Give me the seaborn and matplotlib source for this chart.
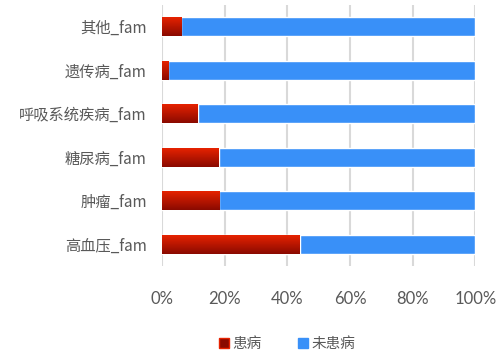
import numpy as np
import pandas as pd
import matplotlib
matplotlib.use("Agg")
import matplotlib.pyplot as plt
from matplotlib.colors import LinearSegmentedColormap
from matplotlib.lines import Line2D
import seaborn as sns

# Family history categories and share (%) of respondents with / without the disease
categories = ["其他_fam", "遗传病_fam", "呼吸系统疾病_fam", "糖尿病_fam", "肿瘤_fam", "高血压_fam"]
affected = [6.1, 2.0, 11.4, 18.1, 18.3, 43.9]
unaffected = [93.9, 98.0, 88.6, 81.9, 81.7, 56.1]
xticks = [0, 20, 40, 60, 80, 100]
xtick_labels = ["0%", "20%", "40%", "60%", "80%", "100%"]
legend_labels = ["患病", "未患病"]

sns.set_theme(style="white")
plt.rcParams["font.family"] = ["Noto Sans CJK SC", "DejaVu Sans"]

df = pd.DataFrame({"cat": categories, "affected": affected, "unaffected": unaffected})
df["total"] = df["affected"] + df["unaffected"]

text_color = "#595959"
blue = "#3990F8"
red_top, red_bot = "#E62200", "#8A0A00"

fig = plt.figure(figsize=(5.01, 3.54), dpi=100)
ax = fig.add_axes([162 / 501, 1 - 266 / 354, (475.3 - 162) / 501, (266 - 5) / 354])

# stacked bars: full-length "not affected" bar with the "affected" bar laid over its start
sns.barplot(data=df, y="cat", x="total", color=blue, saturation=1, width=0.43,
            orient="h", ax=ax, zorder=2)
sns.barplot(data=df, y="cat", x="affected", color=red_bot, saturation=1, width=0.43,
            orient="h", ax=ax, zorder=3)

# vertical red gradient inside each "affected" bar
red_cmap = LinearSegmentedColormap.from_list("redgrad", [red_top, red_bot])
grad = np.linspace(0, 1, 64).reshape(-1, 1)
n = len(categories)
for patch in ax.patches[n:]:
    x0, y0 = patch.get_x(), patch.get_y()
    w, h = patch.get_width(), patch.get_height()
    im = ax.imshow(grad, cmap=red_cmap, aspect="auto", origin="upper",
                   extent=(x0, x0 + w, y0 + h, y0), zorder=4, interpolation="bilinear")
    im.set_clip_path(patch)

ax.set_xlim(0, 100)
ax.set_ylim(n - 0.5, -0.5)
ax.set_xticks(xticks)
ax.set_xticklabels(xtick_labels)
ax.set_xlabel("")
ax.set_ylabel("")
ax.grid(axis="x", color="#D9D9D9", linewidth=1.5, zorder=0)
ax.set_axisbelow(True)
for s in ax.spines.values():
    s.set_visible(False)
ax.tick_params(axis="y", length=0, pad=11, labelsize=11, labelcolor=text_color)
ax.tick_params(axis="x", length=0, pad=18, labelsize=12, labelcolor=text_color)
for lbl in ax.get_xticklabels():
    lbl.set_family(["Lato", "DejaVu Sans"])

handles = [Line2D([], [], marker="s", linestyle="none", markersize=7,
                  markerfacecolor=red_bot, markeredgecolor=red_top),
           Line2D([], [], marker="s", linestyle="none", markersize=7,
                  markerfacecolor=blue, markeredgecolor=blue)]
fig.legend(handles, legend_labels, loc="center", bbox_to_anchor=(287 / 501, 1 - 344 / 354),
           ncol=2, frameon=False, fontsize=10.5, labelcolor=text_color,
           handlelength=0.7, handletextpad=0.2, columnspacing=2.5)

fig.savefig("out.png", dpi=100)
